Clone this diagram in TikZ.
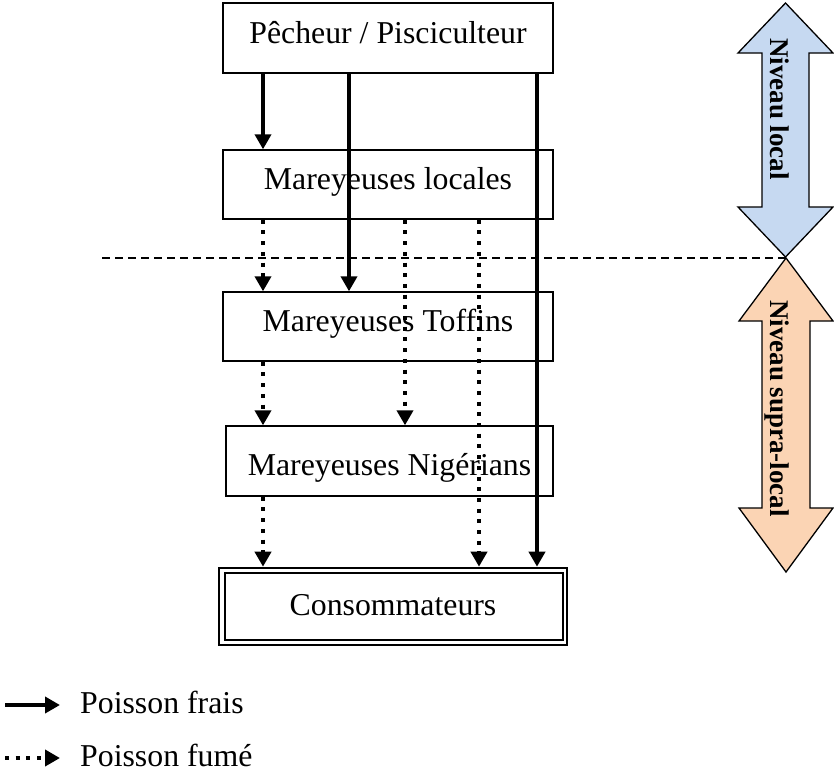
\documentclass[tikz,border=0pt]{standalone}
\usepackage{fontspec}
\setmainfont{Liberation Serif}
\usetikzlibrary{arrows.meta}
\definecolor{lvlblue}{HTML}{C6D9F1}
\definecolor{lvlorange}{HTML}{FBD4B4}
\tikzset{
  box/.style={draw, line width=1.4pt, minimum width=330pt, minimum height=69pt, inner sep=0pt,
     font=\fontsize{31.8}{38}\selectfont, text height=18pt, text depth=8pt},
  fresh/.style={line width=4pt, -{Triangle[width=16pt,length=15pt]}},
  smoked/.style={line width=4pt, dash pattern=on 4pt off 6.7pt, -{Triangle[width=16pt,length=15pt]}},
  sep/.style={line width=1.3pt, dash pattern=on 8pt off 5pt},
  lvl/.style={draw, line width=1.3pt, line join=miter},
  lvltext/.style={rotate=-90, anchor=base west, inner sep=0pt, font=\bfseries\fontsize{27}{32}\selectfont},
  legtext/.style={anchor=base west, inner sep=0pt, font=\fontsize{31.8}{38}\selectfont}
}
\begin{document}
\begin{tikzpicture}[x=1pt, y=-1pt]
\useasboundingbox (0,0) rectangle (834,774);

% boxes
\node[box, minimum height=70pt] (peche) at (388,38) {Pêcheur / Pisciculteur};
\node[box] (loc) at (388,184.5) {Mareyeuses locales};
\node[box] (tof) at (388,326.5) {Mareyeuses Toffins};
\node[box, minimum width=327pt, minimum height=70pt, text height=29.4pt, text depth=0pt] (nig) at (389.5,461) {Mareyeuses Nigérians};
\node[box, line width=2.6pt, minimum width=348pt, minimum height=77pt, text height=17pt, text depth=0pt] (cons) at (393,606.5) {Consommateurs};
\draw[line width=1.9pt] ([shift={(7,6)}]cons.north west) rectangle ([shift={(-5,-6)}]cons.south east);

% columns
\coordinate (c1) at (263,0);
\coordinate (c2) at (349,0);
\coordinate (c3) at (405,0);
\coordinate (c4) at (479,0);
\coordinate (c5) at (537,0);

% fresh fish
\draw[fresh] (peche.south -| c1) -- (loc.north -| c1);
\draw[fresh] (peche.south -| c2) -- (tof.north -| c2);
\draw[fresh] (peche.south -| c5) -- (cons.north -| c5);

% smoked fish
\draw[smoked] (loc.south -| c1) -- (tof.north -| c1);
\draw[smoked] (loc.south -| c3) -- (nig.north -| c3);
\draw[smoked] (loc.south -| c4) -- (cons.north -| c4);
\draw[smoked] (tof.south -| c1) -- (nig.north -| c1);
\draw[smoked] (nig.south -| c1) -- (cons.north -| c1);

% level arrows
\draw[lvl, fill=lvlblue] (785.5,3) -- (833,53) -- (809,53) -- (809,207) -- (833,207) -- (785.5,257)
  -- (738,207) -- (762,207) -- (762,53) -- (738,53) -- cycle;
\draw[lvl, fill=lvlorange] (786,258) -- (833,321) -- (810,321) -- (810,508) -- (833,508) -- (786,572)
  -- (739,508) -- (762,508) -- (762,321) -- (739,321) -- cycle;
\node[lvltext] (nl) at (770,38) {Niveau local};
\node[lvltext] (ns) at (770,300) {Niveau supra-local};

% separator
\coordinate (sepA) at (102,258);
\coordinate (sepB) at (786,258);
\draw[sep] (sepA) -- (sepB);

% legend
\coordinate (l1a) at (5,705);
\coordinate (l1b) at (60,705);
\coordinate (l2a) at (5,758);
\coordinate (l2b) at (60,758);
\draw[fresh] (l1a) -- (l1b);
\draw[smoked] (l2a) -- (l2b);
\node[legtext] (tfr) at (80,713) {Poisson frais};
\node[legtext] (tfu) at (80,766) {Poisson fumé};
\end{tikzpicture}
\end{document}
